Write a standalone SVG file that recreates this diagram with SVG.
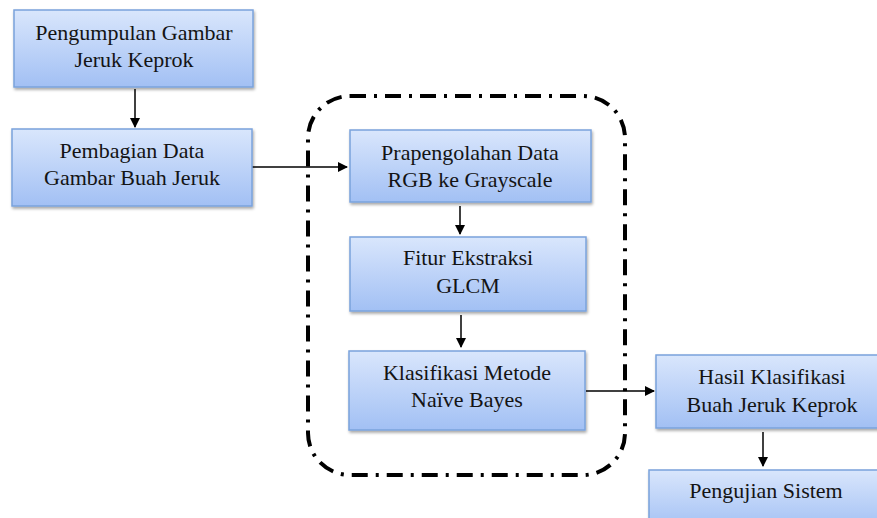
<svg xmlns="http://www.w3.org/2000/svg" width="877" height="518" viewBox="0 0 877 518">
<style>
.box{fill:url(#g);stroke:#7aa3dc;stroke-width:1.5;filter:url(#sh)}
.t{fill:#141414;text-anchor:middle;font-family:"Liberation Serif","Times New Roman",serif;font-size:22px}
.c{stroke:#000;stroke-width:1.5;fill:none;marker-end:url(#ah)}
</style>
<defs>
<linearGradient id="g" x1="0" y1="0" x2="0" y2="1">
<stop offset="0" stop-color="#d9e6fc"/>
<stop offset="1" stop-color="#a2c0f4"/>
</linearGradient>
<filter id="sh" x="-5%" y="-5%" width="115%" height="125%">
<feGaussianBlur in="SourceAlpha" stdDeviation="1.5"/>
<feOffset dx="1" dy="2" result="b"/>
<feComponentTransfer><feFuncA type="linear" slope="0.35"/></feComponentTransfer>
<feMerge><feMergeNode/><feMergeNode in="SourceGraphic"/></feMerge>
</filter>
<marker id="ah" markerWidth="10" markerHeight="10" refX="9" refY="5" orient="auto" markerUnits="userSpaceOnUse">
<path d="M0,0 L10,5 L0,10 Z" fill="#000"/>
</marker>
</defs>
<rect id="boundary" x="308" y="96" width="317" height="379" rx="42" ry="42" fill="none" stroke="#000" stroke-width="4" stroke-dasharray="16 8 3 8"/>
<g id="connectors">
<line class="c" x1="135" y1="89" x2="135" y2="127"/>
<line class="c" x1="252" y1="167" x2="347" y2="167"/>
<line class="c" x1="460" y1="206" x2="460" y2="234"/>
<line class="c" x1="461" y1="315" x2="461" y2="347"/>
<line class="c" x1="586" y1="391" x2="654" y2="391"/>
<line class="c" x1="763" y1="432" x2="763" y2="466"/>
</g>
<g id="n1"><rect class="box" x="14" y="10" width="239" height="77"/>
<text class="t" x="134" y="40">Pengumpulan Gambar</text><text class="t" x="134" y="67">Jeruk Keprok</text></g>
<g id="n2"><rect class="box" x="12" y="129" width="240" height="77"/>
<text class="t" x="132" y="158">Pembagian Data</text><text class="t" x="132" y="185">Gambar Buah Jeruk</text></g>
<g id="n3"><rect class="box" x="350" y="130" width="241" height="72"/>
<text class="t" x="470" y="160">Prapengolahan Data</text><text class="t" x="470" y="187">RGB ke Grayscale</text></g>
<g id="n4"><rect class="box" x="350" y="237" width="236" height="74"/>
<text class="t" x="468" y="265">Fitur Ekstraksi</text><text class="t" x="468" y="293">GLCM</text></g>
<g id="n5"><rect class="box" x="349" y="351" width="236" height="79"/>
<text class="t" x="467" y="380">Klasifikasi Metode</text><text class="t" x="467" y="407">Naïve Bayes</text></g>
<g id="n6"><rect class="box" x="656" y="355" width="234" height="73"/>
<text class="t" x="772" y="384">Hasil Klasifikasi</text><text class="t" x="772" y="412">Buah Jeruk Keprok</text></g>
<g id="n7"><rect class="box" x="649" y="470" width="234" height="60"/>
<text class="t" x="766" y="498">Pengujian Sistem</text></g>
</svg>
